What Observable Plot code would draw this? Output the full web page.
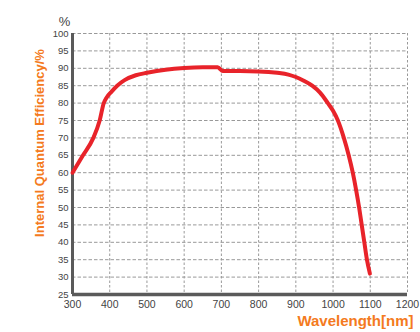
<!DOCTYPE html>
<html>
<head>
<meta charset="utf-8">
<script src="https://cdn.jsdelivr.net/npm/d3@7"></script>
<script src="https://cdn.jsdelivr.net/npm/@observablehq/plot@0.6"></script>
<style>
  html, body { margin: 0; padding: 0; background: #fff; }
  svg { display: block; }
</style>
</head>
<body>
<div id="chart"></div>
<script>
// Wavelength (nm) and internal quantum efficiency (%)
const wavelength = [300, 327, 356, 373, 384, 391, 405, 420, 440, 470, 500, 550, 600, 650, 690, 704, 750, 800, 850, 880, 900, 920, 944, 965, 986, 1000, 1013, 1029, 1042, 1053, 1062, 1070, 1077, 1084, 1091, 1099];
const efficiency = [60, 64.8, 70, 75, 80, 81.5, 83.3, 85, 86.6, 88, 88.7, 89.6, 90.1, 90.3, 90.3, 89.2, 89.2, 89.1, 88.7, 88.2, 87.5, 86.5, 85, 83, 80, 77.8, 75, 70, 65, 60, 55, 50, 45, 40, 35, 31];
const xTicks = [300, 400, 500, 600, 700, 800, 900, 1000, 1100, 1200];
const yTicks = [25, 30, 35, 40, 45, 50, 55, 60, 65, 70, 75, 80, 85, 90, 95, 100];
const yTitle = "Internal Quantum Efficiency/%";
const xTitle = "Wavelength[nm]";
const unitLabel = "%";

const data = wavelength.map((w, i) => ({w, e: efficiency[i]}));
const orange = "#f47a20";

const chart = Plot.plot({
  width: 420,
  height: 332,
  marginLeft: 72,
  marginRight: 13,
  marginTop: 33,
  marginBottom: 38,
  style: {fontFamily: "'Liberation Sans', Arial, sans-serif", background: "#fff"},
  x: {domain: [300, 1200]},
  y: {domain: [25, 100]},
  marks: [
    Plot.gridX(xTicks, {stroke: "#999", strokeOpacity: 1, strokeDasharray: "2.5,2"}),
    Plot.gridY(yTicks, {stroke: "#999", strokeOpacity: 1, strokeDasharray: "3.5,2"}),
    Plot.axisX(xTicks, {tickSize: 0, tickPadding: 6, label: null, fontSize: 10.5, fill: "#444", tickFormat: d => String(d)}),
    Plot.axisY(yTicks, {tickSize: 0, tickPadding: 4, label: null, fontSize: 9.5, fill: "#444", tickFormat: d => String(d)}),
    Plot.ruleX([300], {stroke: "#5a5a5a", strokeWidth: 3}),
    Plot.ruleY([25], {stroke: "#5a5a5a", strokeWidth: 3.5}),
    Plot.line(data, {x: "w", y: "e", stroke: "#e8232a", strokeWidth: 4, curve: "monotone-x", strokeLinejoin: "round", strokeLinecap: "round"}),
    Plot.text([yTitle], {frameAnchor: "left", rotate: -90, dx: -33, dy: -21, fill: orange, fontWeight: "bold", fontSize: 13, textAnchor: "middle"}),
    Plot.text([xTitle], {frameAnchor: "bottom-right", textAnchor: "end", lineAnchor: "bottom", dx: 6, dy: 31, fill: orange, fontWeight: "bold", fontSize: 15}),
    Plot.text([unitLabel], {frameAnchor: "top-left", textAnchor: "middle", dx: -8, dy: -17, fill: "#444", fontSize: 13})
  ]
});
document.getElementById("chart").appendChild(chart);
</script>
</body>
</html>
